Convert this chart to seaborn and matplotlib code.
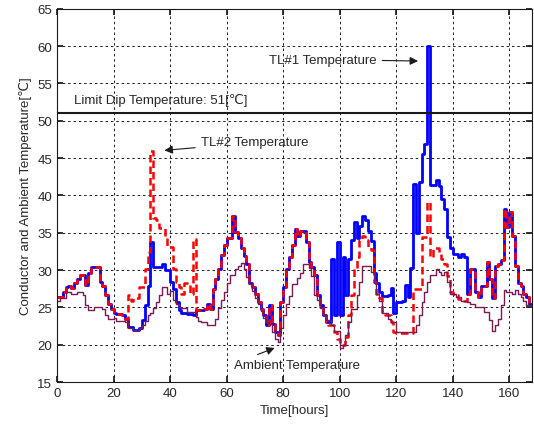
#!/usr/bin/env python

# Conductor (TL#1, TL#2) and ambient temperature over one week

import pandas as pd
import seaborn as sns
from matplotlib import pyplot as plt

# hourly values (value holds until the next hour)
hours = list(range(169))

tl1 = [
	26.4, 26.4, 27.0, 27.7, 27.9, 27.6, 28.2, 28.8, 29.3, 29.3,
	28.0, 29.6, 30.4, 30.4, 30.4, 28.4, 27.9, 26.6, 25.5, 24.8,
	24.3, 24.1, 24.1, 24.0, 23.5, 22.4, 22.4, 22.0, 22.0, 22.2,
	23.3, 25.3, 27.9, 33.8, 30.4, 30.4, 30.4, 30.8, 30.0, 30.0,
	28.4, 27.5, 25.7, 24.6, 24.3, 24.3, 24.1, 24.1, 24.0, 24.6,
	24.6, 24.6, 24.8, 25.5, 24.8, 27.5, 28.8, 30.2, 32.0, 33.4,
	34.3, 34.3, 37.3, 35.1, 34.3, 33.0, 31.9, 30.8, 28.2, 27.7,
	26.8, 25.7, 24.8, 24.0, 22.6, 25.3, 22.8, 21.7, 21.3, 25.7,
	27.7, 30.2, 31.7, 33.3, 35.5, 34.6, 35.3, 35.3, 33.8, 31.1,
	30.4, 29.4, 26.6, 25.3, 24.0, 23.1, 23.1, 31.5, 24.0, 33.8,
	24.0, 31.7, 26.6, 31.5, 34.0, 36.4, 34.3, 35.9, 37.2, 36.7,
	35.2, 33.9, 29.6, 28.3, 27.0, 26.5, 26.5, 26.7, 27.6, 24.3,
	25.7, 25.7, 25.9, 28.0, 26.4, 30.3, 41.5, 35.0, 41.8, 45.5,
	46.9, 60.0, 41.4, 41.4, 42.0, 41.3, 39.5, 38.2, 34.4, 32.9,
	32.2, 32.2, 31.7, 32.2, 31.7, 26.8, 30.2, 30.2, 27.1, 26.4,
	27.9, 27.9, 31.1, 28.8, 26.2, 30.6, 30.8, 31.3, 38.2, 35.8,
	37.8, 34.6, 30.6, 28.2, 27.9, 26.8, 26.4, 25.5, 25.5,
]

tl2 = [
	26.4, 26.4, 27.0, 27.7, 27.9, 27.6, 28.2, 28.8, 29.3, 29.3,
	28.0, 29.6, 30.4, 30.4, 30.4, 28.4, 27.9, 26.6, 25.5, 24.8,
	24.3, 24.1, 24.1, 24.0, 23.5, 26.7, 25.9, 26.3, 26.3, 27.7,
	27.7, 30.2, 32.4, 46.0, 37.0, 36.7, 35.6, 35.6, 34.5, 33.1,
	33.1, 30.2, 28.4, 27.7, 26.8, 28.2, 28.2, 26.8, 34.2, 24.6,
	24.6, 24.6, 24.8, 25.5, 24.8, 27.5, 28.8, 30.2, 32.0, 33.4,
	34.3, 34.3, 37.3, 35.1, 34.3, 33.0, 31.9, 30.8, 28.2, 27.7,
	26.8, 25.7, 24.8, 24.0, 22.6, 25.3, 22.8, 21.7, 21.3, 25.7,
	27.7, 30.2, 31.7, 33.3, 35.5, 34.6, 35.3, 35.3, 33.8, 31.1,
	30.4, 29.4, 26.6, 25.3, 24.0, 23.1, 22.7, 22.7, 21.7, 20.8,
	20.0, 20.0, 21.0, 24.0, 26.6, 30.2, 31.7, 34.0, 34.5, 34.0,
	33.1, 32.7, 28.4, 26.8, 26.2, 24.4, 24.0, 24.0, 23.1, 21.7,
	21.6, 21.6, 21.6, 21.6, 21.6, 21.6, 27.5, 27.5, 27.5, 34.4,
	34.4, 39.1, 31.7, 32.9, 32.9, 32.1, 31.5, 30.8, 29.2, 27.0,
	26.8, 26.6, 26.1, 26.1, 25.9, 26.8, 30.2, 30.2, 27.1, 26.4,
	27.9, 27.9, 31.1, 28.8, 26.2, 30.6, 30.8, 31.3, 38.2, 35.8,
	37.8, 34.6, 30.6, 28.2, 27.9, 26.8, 26.4, 25.5, 25.5,
]

ambient = [
	25.9, 26.2, 26.2, 27.1, 27.1, 26.8, 26.8, 27.1, 27.1, 26.6,
	25.3, 24.6, 24.6, 25.0, 25.0, 25.0, 24.8, 24.0, 23.4, 23.4,
	23.6, 23.2, 23.2, 23.2, 23.0, 22.3, 22.3, 22.0, 22.0, 22.2,
	22.6, 23.2, 24.0, 24.3, 24.9, 25.7, 26.6, 27.7, 27.7, 26.8,
	27.2, 26.0, 25.5, 25.1, 24.9, 24.9, 24.4, 24.4, 24.4, 23.7,
	23.2, 23.0, 23.0, 22.6, 22.6, 22.6, 23.5, 24.9, 26.0, 27.1,
	28.2, 29.3, 29.3, 30.2, 30.6, 30.9, 30.2, 29.1, 28.1, 27.2,
	26.3, 25.4, 24.5, 23.6, 23.1, 22.8, 21.7, 20.8, 20.4, 22.2,
	24.0, 25.5, 26.5, 28.1, 28.1, 29.0, 29.6, 30.8, 30.8, 30.3,
	29.2, 26.6, 26.0, 24.9, 24.0, 23.3, 23.3, 22.6, 21.9, 21.9,
	19.5, 19.9, 21.3, 23.0, 24.8, 24.8, 26.6, 28.4, 30.6, 30.6,
	30.6, 29.7, 28.2, 26.8, 25.9, 24.2, 24.2, 23.5, 23.0, 23.0,
	21.7, 21.7, 21.7, 21.7, 21.7, 21.7, 21.7, 22.6, 24.0, 25.7,
	27.1, 28.4, 29.3, 29.3, 30.2, 29.7, 29.3, 29.7, 28.4, 26.8,
	26.8, 26.4, 26.4, 25.9, 25.9, 25.7, 25.5, 25.5, 25.0, 25.0,
	25.0, 24.4, 24.4, 23.3, 21.9, 22.6, 23.5, 25.3, 27.3, 27.1,
	27.1, 26.8, 27.3, 26.8, 26.4, 25.9, 25.3, 25.3, 25.3,
]

limit_temp = 51

df = pd.DataFrame({"Time": hours, "TL1": tl1, "TL2": tl2, "Ambient": ambient})

sns.set_theme(style="ticks")
plt.rcParams['font.family'] = ['Liberation Sans', 'DejaVu Sans']

fig = plt.figure(figsize=(5.34, 4.27), dpi=100)
ax = fig.add_axes([0.107, 0.103, 0.889, 0.874])

# blue first, red dashes on top, thin ambient last
sns.lineplot(x="Time", y="TL1", data=df, ax=ax, color="#0000ff",
	linewidth=2.0, drawstyle="steps-post")
sns.lineplot(x="Time", y="TL2", data=df, ax=ax, color="#ff0000",
	linewidth=1.8, linestyle=(0, (3, 1.6)), drawstyle="steps-post")
sns.lineplot(x="Time", y="Ambient", data=df, ax=ax, color="#7a1a55",
	linewidth=1.0, drawstyle="steps-post")

ax.axhline(limit_temp, color="k", linewidth=1.5)
ax.text(6, 52.9, "Limit Dip Temperature: 51[℃]", va="center", fontsize=9.5)

arrow = dict(arrowstyle="-|>", color="k", lw=0.8, mutation_scale=12)
ax.annotate("TL#2 Temperature", xy=(37, 46), xytext=(51, 47.1),
	va="center", fontsize=9.5, arrowprops=arrow)
ax.annotate("TL#1 Temperature", xy=(128.7, 58.0), xytext=(74.8, 58.2),
	va="center", fontsize=9.5, arrowprops=arrow)
ax.annotate("Ambient Temperature", xy=(77.9, 19.7), xytext=(62.5, 17.3),
	va="center", fontsize=9.5,
	arrowprops=dict(arrow, relpos=(0.1, 1.0)))

ax.set_xlim(0, 168)
ax.set_ylim(15, 65)
ax.set_xticks(range(0, 161, 20))
ax.set_yticks(range(15, 66, 5))
ax.grid(True, color="k", linestyle=(0, (2.5, 3)), linewidth=0.7)
ax.tick_params(direction="in", top=True, right=True, length=4,
	labelsize=9.5, color="k")
for s in ax.spines.values():
	s.set_color("k")
	s.set_linewidth(0.8)

ax.set_xlabel("Time[hours]", fontsize=9.5)
ax.set_ylabel("Conductor and Ambient Temperature[℃]", fontsize=9.5)

fig.savefig("out.png", dpi=100)
